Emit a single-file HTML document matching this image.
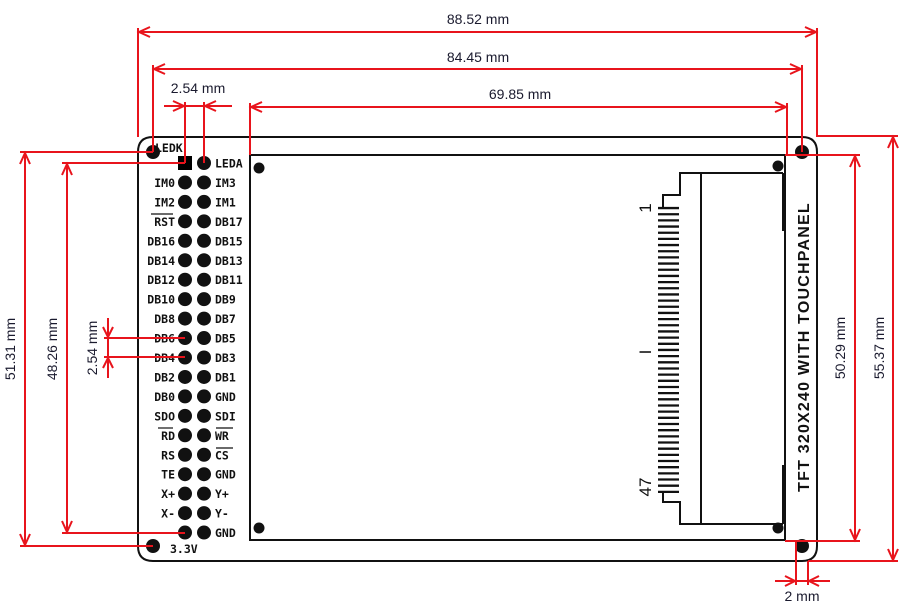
<!DOCTYPE html>
<html><head><meta charset="utf-8"><style>
html,body{margin:0;padding:0;background:#fff}
svg{display:block}
.p{font-family:"DejaVu Sans Mono","Liberation Mono",monospace;font-size:11.5px;font-weight:bold;fill:#111}
.d{font-family:"Liberation Sans",sans-serif;font-size:14px;fill:#1a1a2e}
</style></head><body>
<svg width="910" height="616" viewBox="0 0 910 616" xmlns="http://www.w3.org/2000/svg">
<g fill="none" stroke="#111" stroke-width="2">
<path d="M153,137 H802 Q817,137 817,152 V546 Q817,561 802,561 H153 Q138,561 138,546 V152 Q138,137 153,137 Z"/>
<rect x="250" y="155" width="535" height="385"/>
<path d="M783,173 H680 V195 H663 V208 M701,173 V524 M783,524 H680 V502 H663 V492 M783,173 V230 H786 M783,524 V466 H786"/>
</g>
<g fill="#111">
<circle cx="153" cy="152" r="7"/><circle cx="802" cy="152" r="7"/><circle cx="153" cy="546" r="7"/><circle cx="802" cy="546" r="7"/>
<circle cx="259" cy="168" r="5.5"/><circle cx="778" cy="166" r="5.5"/><circle cx="259" cy="528" r="5.5"/><circle cx="778" cy="528" r="5.5"/>
</g>
<line x1="668.5" y1="206.9" x2="668.5" y2="494" stroke="#111" stroke-width="21" stroke-dasharray="2.3 3.87"/>
<g font-family="Liberation Sans,sans-serif" font-size="17" fill="#111">
<text transform="translate(651,208) rotate(-90)" text-anchor="middle">1</text>
<text transform="translate(651,352) rotate(-90)" text-anchor="middle">I</text>
<text transform="translate(651,487) rotate(-90)" text-anchor="middle">47</text>
<text transform="translate(809,347) rotate(-90)" text-anchor="middle" font-size="16" font-weight="bold" letter-spacing="1.2">TFT 320X240 WITH TOUCHPANEL</text>
</g>
<rect x="178" y="156" width="14" height="14" fill="#000"/>
<line x1="185" y1="182.45" x2="185" y2="533" stroke="#111" stroke-width="14" stroke-linecap="round" stroke-dasharray="0 19.45"/>
<line x1="204" y1="163" x2="204" y2="533" stroke="#111" stroke-width="14" stroke-linecap="round" stroke-dasharray="0 19.45"/>
<g class="p" text-anchor="end">
<text x="175" y="187">IM0</text>
<text x="175" y="206.4">IM2</text>
<text x="175" y="225.9">RST</text>
<text x="175" y="245.3">DB16</text>
<text x="175" y="264.8">DB14</text>
<text x="175" y="284.2">DB12</text>
<text x="175" y="303.7">DB10</text>
<text x="175" y="323.1">DB8</text>
<text x="175" y="342.6">DB6</text>
<text x="175" y="362">DB4</text>
<text x="175" y="381.5">DB2</text>
<text x="175" y="400.9">DB0</text>
<text x="175" y="420.4">SDO</text>
<text x="175" y="439.8">RD</text>
<text x="175" y="459.3">RS</text>
<text x="175" y="478.7">TE</text>
<text x="175" y="498.2">X+</text>
<text x="175" y="517.6">X-</text>
</g>
<g class="p">
<text x="215" y="167.5">LEDA</text>
<text x="215" y="187">IM3</text>
<text x="215" y="206.4">IM1</text>
<text x="215" y="225.9">DB17</text>
<text x="215" y="245.3">DB15</text>
<text x="215" y="264.8">DB13</text>
<text x="215" y="284.2">DB11</text>
<text x="215" y="303.7">DB9</text>
<text x="215" y="323.1">DB7</text>
<text x="215" y="342.6">DB5</text>
<text x="215" y="362">DB3</text>
<text x="215" y="381.5">DB1</text>
<text x="215" y="400.9">GND</text>
<text x="215" y="420.4">SDI</text>
<text x="215" y="439.8">WR</text>
<text x="215" y="459.3">CS</text>
<text x="215" y="478.7">GND</text>
<text x="215" y="498.2">Y+</text>
<text x="215" y="517.6">Y-</text>
<text x="215" y="537">GND</text>
<text x="155" y="152">LEDK</text>
<text x="170" y="553">3.3V</text>
</g>
<g stroke="#111" stroke-width="1.2">
<line x1="151" y1="214" x2="173" y2="214"/>
<line x1="158" y1="428" x2="173" y2="428"/>
<line x1="216" y1="428" x2="233" y2="428"/>
<line x1="216" y1="448" x2="233" y2="448"/>
</g>
<g stroke="#e8141c" stroke-width="2" fill="none">
<path d="M138,28 V137 M817,28 V137 M138,32 H817 M150,27 L139,32 L150,37 M805,27 L816,32 L805,37"/>
<path d="M153,65 V152 M802,65 V152 M153,69 H802 M165,64 L154,69 L165,74 M790,64 L801,69 L790,74"/>
<path d="M185,102 V163 M204,102 V163 M164,106 H232 M173,101 L184,106 L173,111 M216,101 L205,106 L216,111"/>
<path d="M250,103 V155 M787,103 V155 M250,107 H787 M262,102 L251,107 L262,112 M775,102 L786,107 L775,112"/>
<path d="M20,152 H153 M20,546 H153 M25,152 V546 M20,164 L25,153 L30,164 M20,534 L25,545 L30,534"/>
<path d="M62,163 H185 M62,533 H185 M67,163 V533 M62,175 L67,164 L72,175 M62,521 L67,532 L72,521"/>
<path d="M104,338 H185 M104,357 H185 M108,318 V378 M103,327 L108,337 L113,327 M103,368 L108,358 L113,368"/>
<path d="M785,155 H860 M785,541 H860 M855,155 V541 M850,167 L855,156 L860,167 M850,529 L855,540 L860,529"/>
<path d="M817,136 H898 M808,561 H898 M893,136 V561 M888,148 L893,137 L898,148 M888,549 L893,560 L898,549"/>
<path d="M796,541 V585 M808,561 V585 M775,581 H830 M785,576 L795,581 L785,586 M819,576 L809,581 L819,586"/>
</g>
<g class="d">
<text x="478" y="24" text-anchor="middle">88.52 mm</text>
<text x="478" y="62" text-anchor="middle">84.45 mm</text>
<text x="198" y="93" text-anchor="middle">2.54 mm</text>
<text x="520" y="99" text-anchor="middle">69.85 mm</text>
<text x="802" y="601" text-anchor="middle">2 mm</text>
<text transform="translate(15,349) rotate(-90)" text-anchor="middle">51.31 mm</text>
<text transform="translate(57,349) rotate(-90)" text-anchor="middle">48.26 mm</text>
<text transform="translate(97,348) rotate(-90)" text-anchor="middle">2.54 mm</text>
<text transform="translate(845,348) rotate(-90)" text-anchor="middle">50.29 mm</text>
<text transform="translate(884,348) rotate(-90)" text-anchor="middle">55.37 mm</text>
</g>
</svg>
</body></html>
